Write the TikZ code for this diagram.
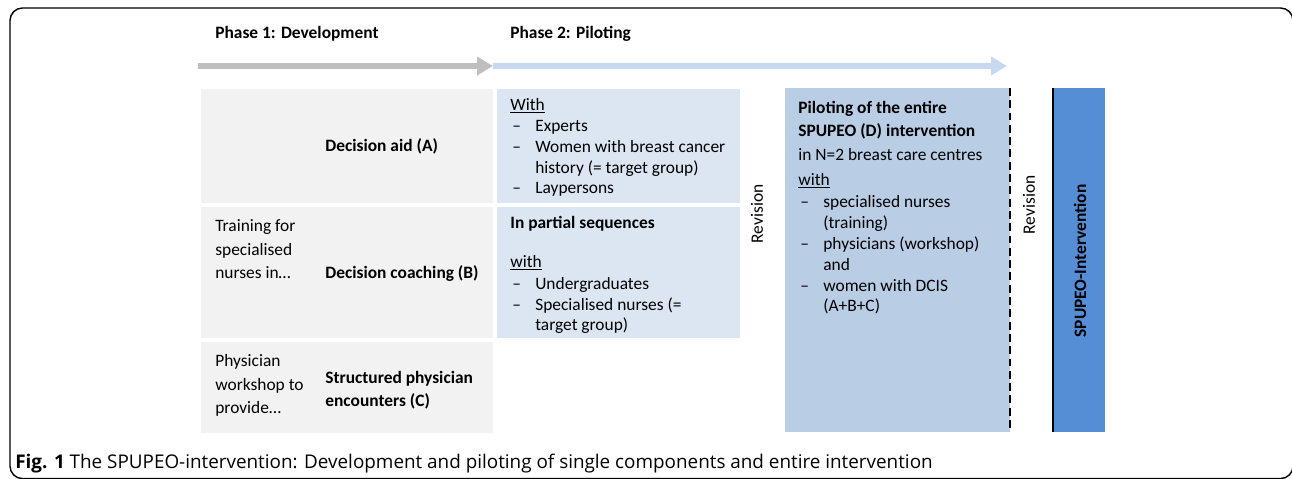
\documentclass[tikz,border=0pt]{standalone}
\usepackage{fontspec}
\setmainfont{Carlito}
\newfontfamily\capfont{Open Sans}
\usepackage{tikz}
\usetikzlibrary{arrows.meta}

\definecolor{devgray}{HTML}{F2F2F2}
\definecolor{devarrow}{HTML}{BFBFBF}
\definecolor{pilotlight}{HTML}{DCE6F2}
\definecolor{pilotarrow}{HTML}{C6D9F1}
\definecolor{pilotmid}{HTML}{B9CDE5}
\definecolor{finalblue}{HTML}{558ED5}

\newcommand{\dashitem}{\makebox[0.5cm][l]{\hspace{0.04cm}--}}
\newcommand{\dashcont}{\hspace*{0.5cm}}

\begin{document}
\begin{tikzpicture}
      [x=0.02cm, y=-0.02cm,
      every node/.style={inner sep=0pt, font=\fontsize{9.9}{11.95}\selectfont},
      txt/.style={anchor=base west, align=left},
      bold/.style={txt, font=\fontsize{9.9}{13.65}\selectfont\bfseries},
      wide/.style={txt, font=\fontsize{9.9}{13.65}\selectfont},
      phasearrow/.style={line width=0.12cm, -{Triangle[length=0.32cm, width=0.36cm]}},
      ]
      \useasboundingbox (0,0) rectangle (1292,479);
      \begin{scope}
        \clip (0,0) rectangle (1292,479);
        \draw[line width=0.8pt, rounded corners=0.25cm] (10,8) rectangle (1293,478.6);
      \end{scope}

      % phases (multi-line nodes sit on their last baseline)
      \node[bold] (ph1) at (215,39) {Phase 1: Development};
      \node[bold] (ph2) at (510,39) {Phase 2: Piloting};
      \coordinate (a0) at (198,66);
      \coordinate (a1) at (493,66);
      \coordinate (a2) at (1007,66);
      \draw[phasearrow, devarrow] (a0) -- (a1);
      \draw[phasearrow, pilotarrow] (a1) -- (a2);

      % development boxes
      \fill[devgray] (201,89) rectangle (493,203);
      \fill[devgray] (201,207) rectangle (493,338);
      \fill[devgray] (201,342) rectangle (493,433);
      \node[bold] (aid) at (325,152) {Decision aid (A)};
      \node[wide] (train) at (215,279) {Training for\\specialised\\nurses in\dots};
      \node[bold] (coach) at (325,279) {Decision coaching (B)};
      \node[wide] (work) at (215,414) {Physician\\workshop to\\provide\dots};
      \node[bold] (enc) at (325,407) {Structured physician\\encounters (C)};

      % piloting of single components
      \fill[pilotlight] (497,89) rectangle (740,203);
      \fill[pilotlight] (497,207) rectangle (740,338);
      \node[txt] (withA) at (510,194) {\underline{With}\\
        \dashitem Experts\\
        \dashitem Women with breast cancer\\
        \dashcont history (= target group)\\
        \dashitem Laypersons};
      \node[bold] (seq) at (510,229) {In partial sequences};
      \node[txt] (withB) at (510,331) {\underline{with}\\[0.5pt]
        \dashitem Undergraduates\\
        \dashitem Specialised nurses (=\\
        \dashcont target group)};
      \node[rotate=90] (rev1) at (757,214) {Revision};

      % piloting of the entire intervention
      \fill[pilotmid] (785,88) rectangle (1010,432);
      \draw[line width=1.2pt, dash pattern=on 4.5pt off 2.5pt] (1010,88) -- (1010,432);
      \node[bold] (entire) at (798,137) {Piloting of the entire\\SPUPEO (D) intervention};
      \node[wide] (centres) at (798,161) {in N=2 breast care centres};
      \node[txt] (withD) at (798,312) {\underline{with}\\[0.5pt]
        \dashitem specialised nurses\\
        \dashcont (training)\\
        \dashitem physicians (workshop)\\
        \dashcont and\\
        \dashitem women with DCIS\\
        \dashcont (A+B+C)};
      \node[rotate=90] (rev2) at (1029,205) {Revision};

      % result
      \fill[finalblue] (1053,88) rectangle (1105,432);
      \draw[line width=0.9pt] (1053,88) -- (1053,432);
      \node[rotate=90, font=\fontsize{9.9}{11.95}\selectfont\bfseries] (spupeo) at (1080,261) {SPUPEO-Intervention};

      % caption
      \node[anchor=base west, font=\capfont\fontsize{10.74}{13}\selectfont] (cap) at (15,469)
        {\textbf{Fig. 1} The SPUPEO-intervention: Development and piloting of single components and entire intervention};
      \end{tikzpicture}
\end{document}
